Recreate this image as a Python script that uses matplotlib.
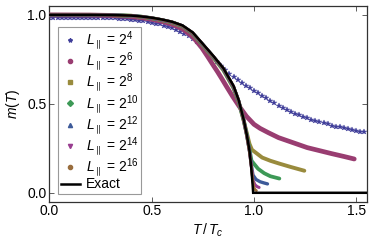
import numpy as np
import matplotlib
matplotlib.use("Agg")
import matplotlib.pyplot as plt
from matplotlib.lines import Line2D

plt.rcParams['font.family'] = ['Liberation Sans', 'DejaVu Sans']
plt.rcParams['mathtext.fontset'] = 'custom'
plt.rcParams['mathtext.rm'] = 'Liberation Sans'
plt.rcParams['mathtext.it'] = 'Liberation Sans:italic'
plt.rcParams['mathtext.bf'] = 'Liberation Sans:bold'

# L = 2^4, sampled every 0.02 in T/Tc
t_4 = [0.00, 0.02, 0.04, 0.06, 0.08, 0.10, 0.12, 0.14, 0.16, 0.18,
       0.20, 0.22, 0.24, 0.26, 0.28, 0.30, 0.32, 0.34, 0.36, 0.38,
       0.40, 0.42, 0.44, 0.46, 0.48, 0.50, 0.52, 0.54, 0.56, 0.58,
       0.60, 0.62, 0.64, 0.66, 0.68, 0.70, 0.72, 0.74, 0.76, 0.78,
       0.80, 0.82, 0.84, 0.86, 0.88, 0.90, 0.92, 0.94, 0.96, 0.98,
       1.00, 1.02, 1.04, 1.06, 1.08, 1.10, 1.12, 1.14, 1.16, 1.18,
       1.20, 1.22, 1.24, 1.26, 1.28, 1.30, 1.32, 1.34, 1.36, 1.38,
       1.40, 1.42, 1.44, 1.46, 1.48, 1.50, 1.52, 1.54]
m_4 = [0.985, 0.985, 0.985, 0.985, 0.985, 0.985, 0.985, 0.985, 0.985, 0.985,
       0.985, 0.985, 0.984, 0.983, 0.982, 0.981, 0.980, 0.978, 0.977, 0.975,
       0.973, 0.970, 0.967, 0.964, 0.960, 0.956, 0.951, 0.946, 0.940, 0.933,
       0.925, 0.916, 0.906, 0.894, 0.880, 0.864, 0.846, 0.826, 0.804, 0.781,
       0.757, 0.733, 0.710, 0.688, 0.668, 0.650, 0.633, 0.617, 0.602, 0.588,
       0.574, 0.560, 0.546, 0.532, 0.518, 0.504, 0.490, 0.477, 0.465, 0.454,
       0.444, 0.435, 0.426, 0.418, 0.410, 0.403, 0.396, 0.390, 0.384, 0.378,
       0.372, 0.367, 0.362, 0.357, 0.352, 0.347, 0.343, 0.339]

# larger systems (dense markers, read along the band)
t_6 = [0.0, 0.2, 0.3, 0.4, 0.45, 0.5, 0.55, 0.6, 0.65, 0.7, 0.745, 0.774,
       0.798, 0.822, 0.842, 0.866, 0.895, 0.929, 0.963, 1.0, 1.03, 1.07,
       1.12, 1.2, 1.26, 1.32, 1.38, 1.44, 1.49]
m_6 = [1.0, 0.999, 0.997, 0.99, 0.984, 0.975, 0.963, 0.947, 0.922, 0.878,
       0.815, 0.765, 0.722, 0.68, 0.643, 0.597, 0.543, 0.484, 0.43, 0.385,
       0.362, 0.338, 0.31, 0.278, 0.254, 0.237, 0.22, 0.204, 0.19]

t_8 = [0.0, 0.2, 0.3, 0.4, 0.45, 0.5, 0.55, 0.6, 0.65, 0.7, 0.75, 0.8,
       0.85, 0.9, 0.925, 0.95, 0.965, 0.978, 0.99, 1.04, 1.08, 1.124, 1.18,
       1.246]
m_8 = [1.0, 1.0, 0.999, 0.995, 0.989, 0.981, 0.97, 0.956, 0.935, 0.895,
       0.828, 0.762, 0.69, 0.588, 0.51, 0.405, 0.335, 0.275, 0.242, 0.198,
       0.18, 0.164, 0.145, 0.124]

t_10 = [0.0, 0.2, 0.3, 0.4, 0.45, 0.5, 0.55, 0.6, 0.65, 0.7, 0.75, 0.8,
        0.85, 0.9, 0.925, 0.95, 0.965, 0.978, 0.988, 1.02, 1.05, 1.08,
        1.124]
m_10 = [1.0, 1.0, 0.999, 0.995, 0.99, 0.982, 0.971, 0.958, 0.937, 0.897,
        0.831, 0.765, 0.694, 0.592, 0.514, 0.406, 0.325, 0.245, 0.18, 0.135,
        0.11, 0.093, 0.08]

t_12 = [0.0, 0.2, 0.3, 0.4, 0.45, 0.5, 0.55, 0.6, 0.65, 0.7, 0.75, 0.8,
        0.85, 0.9, 0.925, 0.95, 0.965, 0.978, 0.988, 0.995, 1.01, 1.03,
        1.05, 1.066]
m_12 = [1.0, 1.0, 0.999, 0.995, 0.99, 0.982, 0.972, 0.959, 0.938, 0.898,
        0.833, 0.767, 0.696, 0.595, 0.516, 0.407, 0.322, 0.235, 0.15, 0.1,
        0.075, 0.062, 0.055, 0.05]

t_14 = [0.0, 0.2, 0.3, 0.4, 0.45, 0.5, 0.55, 0.6, 0.65, 0.7, 0.75, 0.8,
        0.85, 0.9, 0.925, 0.95, 0.965, 0.978, 0.988, 0.995, 1.005, 1.015,
        1.025]
m_14 = [1.0, 1.0, 0.999, 0.995, 0.99, 0.983, 0.972, 0.959, 0.939, 0.899,
        0.834, 0.768, 0.698, 0.597, 0.518, 0.407, 0.32, 0.232, 0.14, 0.07,
        0.045, 0.035, 0.03]

t_16 = [0.0, 0.2, 0.3, 0.4, 0.45, 0.5, 0.55, 0.6, 0.65, 0.7, 0.75, 0.8,
        0.85, 0.9, 0.925, 0.95, 0.965, 0.978, 0.988, 0.995, 1.0, 1.005,
        1.012]
m_16 = [1.0, 1.0, 0.999, 0.995, 0.99, 0.983, 0.973, 0.96, 0.939, 0.9,
        0.835, 0.769, 0.699, 0.599, 0.519, 0.407, 0.32, 0.23, 0.135, 0.06,
        0.03, 0.018, 0.012]

t_exact = [0.0, 0.2, 0.3, 0.4, 0.45, 0.5, 0.55, 0.6, 0.65, 0.7, 0.75, 0.8,
           0.85, 0.9, 0.925, 0.95, 0.965, 0.978, 0.986, 0.993, 0.996, 1.55]
m_exact = [1.0, 1.0, 0.999, 0.996, 0.991, 0.984, 0.974, 0.961, 0.941, 0.902,
           0.837, 0.771, 0.701, 0.601, 0.522, 0.41, 0.325, 0.237, 0.15, 0.05,
           0.0, 0.0]

labels = [r'$L_{\parallel}$ = $2^{4}$', r'$L_{\parallel}$ = $2^{6}$',
          r'$L_{\parallel}$ = $2^{8}$', r'$L_{\parallel}$ = $2^{10}$',
          r'$L_{\parallel}$ = $2^{12}$', r'$L_{\parallel}$ = $2^{14}$',
          r'$L_{\parallel}$ = $2^{16}$']

colors = [(0.247, 0.24, 0.6), (0.6, 0.24, 0.443), (0.6, 0.547, 0.24),
          (0.24, 0.6, 0.337), (0.24, 0.353, 0.6), (0.6, 0.24, 0.563),
          (0.6, 0.427, 0.24)]
markers = ['*', 'o', 's', 'D', '^', 'v', 'o']

fig = plt.figure(figsize=(3.74, 2.49), dpi=100)
ax = fig.add_axes([0.132, 0.19, 0.848, 0.786])

# stars are well separated
ax.plot(t_4, m_4, ls='none', marker='*', ms=4.0, color=colors[0],
        mec=colors[0], mew=0.3, zorder=2)

dense = [(t_6, m_6, 3.4), (t_8, m_8, 2.8), (t_10, m_10, 2.7),
         (t_12, m_12, 2.4), (t_14, m_14, 2.2), (t_16, m_16, 2.0)]
for i, (t, m, w) in enumerate(dense):
    c = colors[i + 1]
    ax.plot(t, m, color=c, lw=w, solid_capstyle='round',
            solid_joinstyle='round', zorder=3)

ax.plot(t_exact, m_exact, color='black', lw=1.8, solid_joinstyle='miter',
        zorder=4)

ax.set_xlim(0, 1.55)
ax.set_ylim(-0.05, 1.05)
ax.set_xticks([0.0, 0.5, 1.0, 1.5])
ax.set_yticks([0.0, 0.5, 1.0])
ax.xaxis.set_major_formatter(matplotlib.ticker.FormatStrFormatter('%.1f'))
ax.yaxis.set_major_formatter(matplotlib.ticker.FormatStrFormatter('%.1f'))
ax.tick_params(direction='in', length=3.5, width=0.6, labelsize=10,
               top=True, right=True, labeltop=False, labelright=False,
               pad=2, color='#444444')
for s in ax.spines.values():
    s.set_linewidth(0.9)
    s.set_color('#333333')

ax.set_xlabel(r'$T\,/\,T_c$', fontsize=10, labelpad=2)
ax.set_ylabel(r'$m(T)$', fontsize=10, labelpad=4)

handles = []
for i in range(7):
    handles.append(Line2D([], [], ls='none', marker=markers[i], ms=3.0,
                          color=colors[i]))
handles.append(Line2D([], [], color='black', lw=1.8))
leg = ax.legend(handles, labels + ['Exact'], loc='upper left',
                bbox_to_anchor=(0.027, 0.893), borderaxespad=0,
                fancybox=False, framealpha=1, edgecolor='#999999',
                fontsize=10, handlelength=1.4, handletextpad=0.4,
                labelspacing=-0.1, borderpad=0.2)
leg.get_frame().set_linewidth(0.8)

fig.savefig('out.png', dpi=100)
